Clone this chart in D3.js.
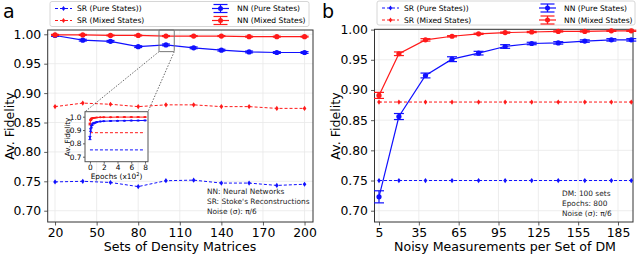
<!DOCTYPE html>
<html>
<head>
<meta charset="utf-8">
<script src="https://cdn.jsdelivr.net/npm/d3@7"></script>
<style>
  body { margin: 0; background: #fff; }
  svg { font-family: "DejaVu Sans", sans-serif; display: block; }
</style>
</head>
<body>
<div id="app"></div>
<script>
// ---- panel a data ----
const setsA = [20, 40, 60, 80, 100, 120, 140, 160, 180, 200];
const nnPureA = [0.998, 0.990, 0.988, 0.979, 0.982, 0.977, 0.973, 0.970, 0.969, 0.969];
const nnPureErrA = [0.0015, 0.0015, 0.0015, 0.0015, 0.0015, 0.0015, 0.0015, 0.0015, 0.0015, 0.0015];
const nnMixedA = [0.999, 0.999, 0.998, 0.998, 0.997, 0.997, 0.997, 0.996, 0.996, 0.996];
const nnMixedErrA = [0.0008, 0.0008, 0.0008, 0.0008, 0.0008, 0.0008, 0.0008, 0.0008, 0.0008, 0.0008];
const srPureA = [0.749, 0.750, 0.748, 0.741, 0.751, 0.752, 0.747, 0.747, 0.743, 0.745];
const srMixedA = [0.877, 0.883, 0.881, 0.877, 0.880, 0.880, 0.877, 0.877, 0.874, 0.874];
const xTicksA = [20, 50, 80, 110, 140, 170, 200];

// ---- panel b data ----
const measB = [5, 20, 40, 60, 80, 100, 120, 140, 160, 180, 195];
const nnPureB = [0.723, 0.856, 0.924, 0.951, 0.961, 0.972, 0.977, 0.978, 0.981, 0.983, 0.983];
const nnPureErrB = [0.010, 0.005, 0.004, 0.004, 0.003, 0.003, 0.002, 0.002, 0.002, 0.002, 0.002];
const nnMixedB = [0.891, 0.960, 0.983, 0.989, 0.993, 0.995, 0.996, 0.997, 0.997, 0.998, 0.998];
const nnMixedErrB = [0.005, 0.003, 0.002, 0.001, 0.001, 0.001, 0.001, 0.001, 0.001, 0.001, 0.001];
const srPureB = [0.75, 0.75, 0.75, 0.75, 0.75, 0.75, 0.75, 0.75, 0.75, 0.75, 0.75];
const srMixedB = [0.88, 0.88, 0.88, 0.88, 0.88, 0.88, 0.88, 0.88, 0.88, 0.88, 0.88];
const xTicksB = [5, 35, 65, 95, 125, 155, 185];

const yTicks = [0.70, 0.75, 0.80, 0.85, 0.90, 0.95, 1.00];

// ---- inset data (epochs x10^2) ----
const epochs = [0, 0.1, 0.2, 0.3, 0.5, 0.75, 1, 1.5, 2, 3, 4, 5, 6, 7, 8];
const insetPure = [0.84, 0.90, 0.925, 0.94, 0.95, 0.955, 0.96, 0.964, 0.966, 0.968, 0.969, 0.970, 0.971, 0.971, 0.972];
const insetPureErr = [0.012, 0.01, 0.008, 0.006, 0.004, 0.003, 0.002, 0.002, 0.002, 0.002, 0.002, 0.002, 0.002, 0.002, 0.002];
const insetMixed = [0.945, 0.975, 0.984, 0.988, 0.991, 0.993, 0.994, 0.995, 0.996, 0.996, 0.997, 0.997, 0.997, 0.997, 0.997];
const insetMixedErr = [0.006, 0.004, 0.003, 0.002, 0.002, 0.001, 0.001, 0.001, 0.001, 0.001, 0.001, 0.001, 0.001, 0.001, 0.001];
const insetXTicks = [0, 2, 4, 6, 8];
const insetYTicks = [0.7, 0.8, 0.9, 1.0];

const blue = "#1010ff", red = "#ff1a1a";
const w = 640, h = 255;

const svg = d3.select("#app").append("svg")
  .attr("width", w).attr("height", h);

function panel(opt) {
  const x = d3.scaleLinear().domain(opt.xDomain).range(opt.xRange);
  const y = d3.scaleLinear().domain(opt.yDomain).range(opt.yRange);
  const g = svg.append("g");
  const [x0, x1] = opt.xRange, [y1, y0] = opt.yRange;

  // grid
  g.append("g").selectAll("line").data(opt.xTicks).join("line")
    .attr("x1", d => x(d)).attr("x2", d => x(d))
    .attr("y1", y0).attr("y2", y1)
    .attr("stroke", "#e8e8e8").attr("stroke-width", opt.grid || 0.8);
  g.append("g").selectAll("line").data(opt.yTicks).join("line")
    .attr("x1", x0).attr("x2", x1)
    .attr("y1", d => y(d)).attr("y2", d => y(d))
    .attr("stroke", "#e8e8e8").attr("stroke-width", opt.grid || 0.8);

  // axes
  const xAxis = d3.axisBottom(x).tickValues(opt.xTicks)
    .tickSize(opt.tick).tickPadding(opt.pad).tickFormat(opt.xFmt || d3.format("d"));
  const yAxis = d3.axisLeft(y).tickValues(opt.yTicks)
    .tickSize(opt.tick).tickPadding(opt.pad).tickFormat(opt.yFmt);
  const gx = g.append("g").attr("transform", `translate(0,${y1})`).call(xAxis);
  const gy = g.append("g").attr("transform", `translate(${x0},0)`).call(yAxis);
  [gx, gy].forEach(a => {
    a.select(".domain").remove();
    a.selectAll("text").attr("font-size", opt.font).attr("fill", "#000")
      .attr("font-family", "DejaVu Sans");
    a.selectAll("line").attr("stroke", "#333").attr("stroke-width", 0.8);
  });
  g.append("rect").attr("x", x0).attr("y", y0)
    .attr("width", x1 - x0).attr("height", y1 - y0)
    .attr("fill", "none").attr("stroke", opt.frame || "#333").attr("stroke-width", 1);
  return { g, x, y };
}

function dashedSeries(p, xs, ys, color, r) {
  const pts = xs.map((d, i) => [d, ys[i]]);
  p.g.append("path").datum(pts)
    .attr("d", d3.line().x(d => p.x(d[0])).y(d => p.y(d[1])))
    .attr("fill", "none").attr("stroke", color).attr("stroke-width", 1)
    .attr("stroke-dasharray", "3,2");
  if (r) {
    p.g.append("g").selectAll("path").data(pts).join("path")
      .attr("transform", d => `translate(${p.x(d[0])},${p.y(d[1])})`)
      .attr("d", `M0,${-r}L${r * 0.7},0L0,${r}L${-r * 0.7},0Z`)
      .attr("fill", color);
  }
}

function errSeries(p, xs, ys, errs, color, r, cap, lw) {
  const pts = xs.map((d, i) => [d, ys[i], errs[i]]);
  p.g.append("path").datum(pts)
    .attr("d", d3.line().x(d => p.x(d[0])).y(d => p.y(d[1])))
    .attr("fill", "none").attr("stroke", color).attr("stroke-width", lw);
  const eb = p.g.append("g").attr("stroke", color).attr("stroke-width", lw);
  eb.selectAll(".v").data(pts).join("line")
    .attr("x1", d => p.x(d[0])).attr("x2", d => p.x(d[0]))
    .attr("y1", d => p.y(d[1] - d[2])).attr("y2", d => p.y(d[1] + d[2]));
  [-1, 1].forEach(s => {
    eb.append("g").selectAll("line").data(pts).join("line")
      .attr("x1", d => p.x(d[0]) - cap).attr("x2", d => p.x(d[0]) + cap)
      .attr("y1", d => p.y(d[1] + s * d[2])).attr("y2", d => p.y(d[1] + s * d[2]));
  });
  p.g.append("g").selectAll("circle").data(pts).join("circle")
    .attr("cx", d => p.x(d[0])).attr("cy", d => p.y(d[1])).attr("r", r)
    .attr("fill", color);
}

function legend(bx, by, bw, bh) {
  const lg = svg.append("g").attr("transform", `translate(${bx},${by})`);
  lg.append("rect").attr("width", bw).attr("height", bh).attr("rx", 2)
    .attr("fill", "#fff").attr("stroke", "#ccc").attr("stroke-width", 0.8);
  const rows = [
    { t: "SR (Pure States))", c: blue, col: 0, row: 0, kind: "sr" },
    { t: "SR (Mixed States)", c: red, col: 0, row: 1, kind: "sr" },
    { t: "NN (Pure States)", c: blue, col: 1, row: 0, kind: "nn" },
    { t: "NN (Mixed States)", c: red, col: 1, row: 1, kind: "nn" }
  ];
  rows.forEach(d => {
    const lx = d.col === 0 ? 5 : 162, ly = 7 + d.row * 12;
    if (d.kind === "sr") {
      lg.append("line").attr("x1", lx).attr("x2", lx + 17).attr("y1", ly).attr("y2", ly)
        .attr("stroke", d.c).attr("stroke-dasharray", "3,2");
      lg.append("path").attr("transform", `translate(${lx + 8.5},${ly})`)
        .attr("d", "M0,-2.5L1.8,0L0,2.5L-1.8,0Z").attr("fill", d.c);
    } else {
      const cx = lx + 8.5;
      lg.append("line").attr("x1", lx).attr("x2", lx + 17).attr("y1", ly).attr("y2", ly)
        .attr("stroke", d.c).attr("stroke-width", 1.2);
      lg.append("line").attr("x1", cx).attr("x2", cx).attr("y1", ly - 4).attr("y2", ly + 4)
        .attr("stroke", d.c).attr("stroke-width", 1.2);
      [-4, 4].forEach(o => lg.append("line").attr("x1", cx - 7).attr("x2", cx + 7)
        .attr("y1", ly + o).attr("y2", ly + o).attr("stroke", d.c).attr("stroke-width", 1.2));
      lg.append("circle").attr("cx", cx).attr("cy", ly).attr("r", 2.5).attr("fill", d.c);
    }
    lg.append("text").attr("x", d.col === 0 ? 27 : 187).attr("y", ly + 2.7)
      .attr("font-size", 7.6).text(d.t);
  });
}

function notes(x0, y0, lines) {
  svg.append("g").selectAll("text").data(lines).join("text")
    .attr("x", x0).attr("y", (d, i) => y0 + i * 10)
    .attr("font-size", 7.4).attr("fill", "#222").text(d => d);
}

// ---------- panel a ----------
const pa = panel({
  xDomain: [14.7, 206.1], xRange: [47.7, 313],
  yDomain: [0.6808, 1.0073], yRange: [222, 30],
  xTicks: xTicksA, yTicks: yTicks, tick: 3.5, pad: 3, font: 12.4,
  yFmt: d3.format(".2f")
});
dashedSeries(pa, setsA, srPureA, blue, 2.6);
dashedSeries(pa, setsA, srMixedA, red, 2.6);
errSeries(pa, setsA, nnPureA, nnPureErrA, blue, 2.6, 4, 1.2);
errSeries(pa, setsA, nnMixedA, nnMixedErrA, red, 2.6, 4, 1.2);

// zoom box and connectors
const zx0 = pa.x(95), zx1 = pa.x(106), zy0 = pa.y(1.0075), zy1 = pa.y(0.9705);
pa.g.append("rect").attr("x", zx0).attr("y", zy0).attr("width", zx1 - zx0)
  .attr("height", zy1 - zy0).attr("rx", 1).attr("fill", "none")
  .attr("stroke", "#777").attr("stroke-width", 1);

// inset
const ins = panel({
  xDomain: [-0.72, 8.43], xRange: [85, 148],
  yDomain: [0.6625, 1.0375], yRange: [161.7, 111.7],
  xTicks: insetXTicks, yTicks: insetYTicks, tick: 2, pad: 1.5, font: 7.4,
  yFmt: d3.format(".1f"), grid: 0.0001, frame: "#555"
});
ins.g.insert("rect", ":first-child").attr("x", 85).attr("y", 111.7)
  .attr("width", 63).attr("height", 50).attr("fill", "#fff");
dashedSeries(ins, [0, 8], [srMixedA[4], srMixedA[4]], red, 0);
dashedSeries(ins, [0, 8], [srPureA[4], srPureA[4]], blue, 0);
errSeries(ins, epochs, insetMixed, insetMixedErr, red, 1, 1.5, 1);
errSeries(ins, epochs, insetPure, insetPureErr, blue, 1, 1.5, 1);
ins.g.append("text").attr("transform", "translate(70,137) rotate(-90)")
  .attr("text-anchor", "middle").attr("font-size", 7.2).text("Av. Fidelity");
ins.g.append("text").attr("x", 116.5).attr("y", 179)
  .attr("text-anchor", "middle").attr("font-size", 7.4)
  .html("Epochs (x10<tspan dy='-3' font-size='5'>2</tspan><tspan dy='3'>)</tspan>");

[[zx0, 85], [zx1, 148]].forEach(([a, b]) => {
  svg.append("line").attr("x1", a).attr("y1", zy1).attr("x2", b).attr("y2", 111.7)
    .attr("stroke", "#444").attr("stroke-width", 0.8).attr("stroke-dasharray", "1.5,1.5");
});

notes(207, 194, ["NN: Neural Networks", "SR: Stoke's Reconstructions", "Noise (σ): π/6"]);
legend(50, 1.5, 259, 25);

svg.append("text").attr("x", 180).attr("y", 251).attr("text-anchor", "middle")
  .attr("font-size", 12.6).text("Sets of Density Matrices");
svg.append("text").attr("transform", "translate(14,126) rotate(-90)")
  .attr("text-anchor", "middle").attr("font-size", 12.6).text("Av. Fidelity");
svg.append("text").attr("x", 3).attr("y", 18).attr("font-size", 19).text("a");

// ---------- panel b ----------
const pb = panel({
  xDomain: [1.61, 196.3], xRange: [374.5, 633],
  yDomain: [0.6813, 1.0005], yRange: [222, 29.3],
  xTicks: xTicksB, yTicks: yTicks, tick: 3.5, pad: 3, font: 12.4,
  yFmt: d3.format(".2f")
});
dashedSeries(pb, measB, srPureB, blue, 2.6);
dashedSeries(pb, measB, srMixedB, red, 2.6);
errSeries(pb, measB, nnPureB, nnPureErrB, blue, 2.6, 5, 1.2);
errSeries(pb, measB, nnMixedB, nnMixedErrB, red, 2.6, 5, 1.2);

notes(562, 196, ["DM: 100 sets", "Epochs: 800", "Noise (σ): π/6"]);
legend(377, 1, 258, 24);

svg.append("text").attr("x", 505).attr("y", 251).attr("text-anchor", "middle")
  .attr("font-size", 12.6).text("Noisy Measurements per Set of DM");
svg.append("text").attr("transform", "translate(340,126) rotate(-90)")
  .attr("text-anchor", "middle").attr("font-size", 12.6).text("Av. Fidelity");
svg.append("text").attr("x", 322).attr("y", 18).attr("font-size", 19).text("b");
</script>
</body>
</html>
